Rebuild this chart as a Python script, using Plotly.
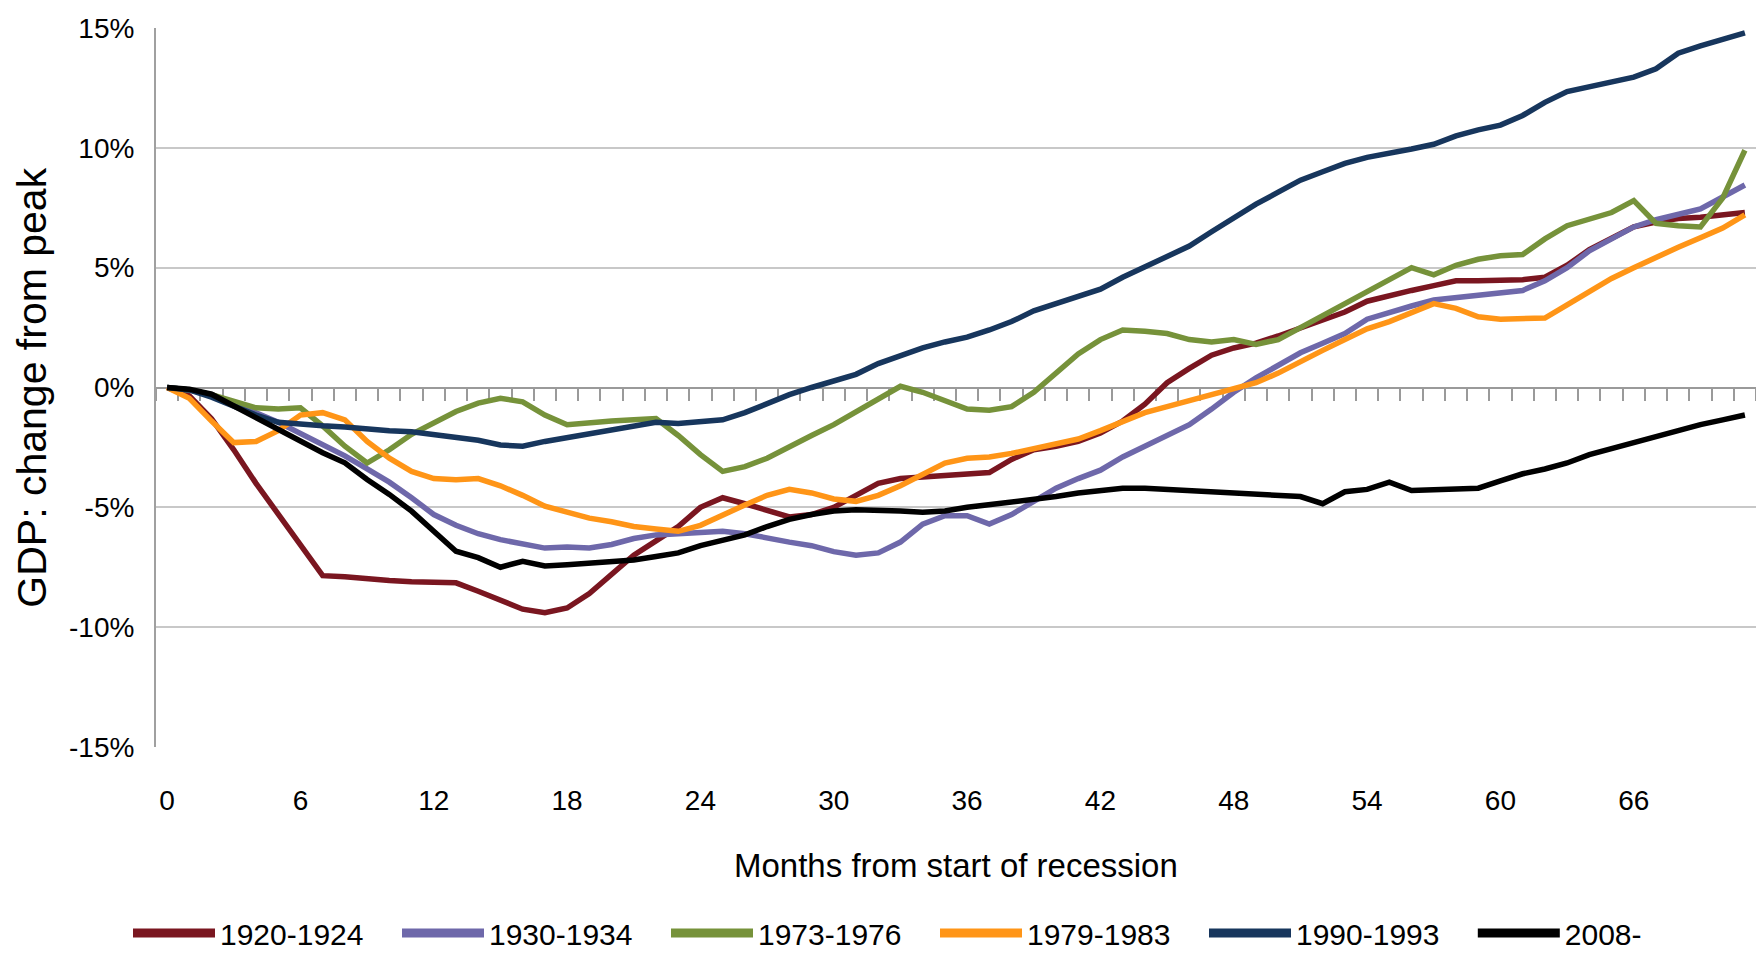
import plotly.graph_objects as go

months = list(range(72))

series_names = ["1920-1924", "1930-1934", "1973-1976", "1979-1983", "1990-1993", "2008-"]
series_colors = ["#7A1620", "#6E68AA", "#76923A", "#FF9517", "#17365D", "#000000"]

gdp_1920 = [0, -0.35, -1.3, -2.6, -4.0, -5.3, -6.6, -7.85, -7.9, -8.0, -8.05, -8.1, -8.1, -8.15, -8.5, -8.85, -9.25, -9.4,
            -9.2, -8.6, -7.8, -7.0, -6.4, -5.8, -5.0, -4.6, -4.85, -5.15, -5.4, -5.3, -5.0, -4.5, -4.0, -3.8, -3.75, -3.7,
            -3.65, -3.55, -3.0, -2.6, -2.45, -2.25, -1.9, -1.4, -0.7, 0.2, 0.8, 1.35, 1.65, 1.85, 2.15, 2.5, 2.8, 3.15,
            3.6, 3.85, 4.05, 4.25, 4.45, 4.45, 4.45, 4.5, 4.6, 5.1, 5.75, 6.25, 6.7, 6.9, 7.05, 7.1, 7.2, 7.3]
gdp_1930 = [0, -0.1, -0.3, -0.65, -1.05, -1.45, -1.9, -2.35, -2.85, -3.4, -3.95, -4.6, -5.3, -5.75, -6.1, -6.35, -6.5, -6.7,
            -6.65, -6.7, -6.55, -6.3, -6.15, -6.1, -6.05, -6.0, -6.1, -6.3, -6.45, -6.6, -6.85, -7.0, -6.9, -6.45, -5.7, -5.35,
            -5.35, -5.7, -5.3, -4.75, -4.2, -3.8, -3.45, -2.9, -2.45, -2.0, -1.55, -0.9, -0.2, 0.4, 0.95, 1.45, 1.85, 2.25,
            2.85, 3.15, 3.4, 3.65, 3.75, 3.85, 3.95, 4.05, 4.45, 5.0, 5.7, 6.2, 6.7, 7.0, 7.2, 7.45, 7.95, 8.45]
gdp_1973 = [0, -0.1, -0.3, -0.6, -0.85, -0.9, -0.85, -1.6, -2.45, -3.15, -2.6, -1.95, -1.45, -1.0, -0.65, -0.45, -0.6, -1.15,
            -1.55, -1.45, -1.4, -1.35, -1.3, -2.0, -2.8, -3.5, -3.3, -2.95, -2.45, -2.0, -1.55, -1.0, -0.45, 0.05, -0.2, -0.55,
            -0.9, -0.95, -0.8, -0.2, 0.6, 1.4, 2.0, 2.4, 2.35, 2.25, 2.0, 1.9, 2.0, 1.8, 2.0, 2.5, 3.0, 3.5,
            4.0, 4.5, 5.0, 4.7, 5.1, 5.35, 5.5, 5.55, 6.2, 6.75, 7.0, 7.3, 7.8, 6.85, 6.75, 6.7, 7.9, 9.9]
gdp_1979 = [0, -0.45, -1.4, -2.3, -2.25, -1.8, -1.15, -1.05, -1.35, -2.25, -2.95, -3.5, -3.8, -3.85, -3.8, -4.1, -4.5, -4.95,
            -5.2, -5.45, -5.6, -5.8, -5.9, -6.0, -5.75, -5.3, -4.9, -4.5, -4.25, -4.4, -4.65, -4.75, -4.5, -4.1, -3.6, -3.15,
            -2.95, -2.9, -2.75, -2.55, -2.4, -2.15, -1.8, -1.4, -1.05, -0.8, -0.55, -0.35, -0.1, 0.2, 0.6, 1.1, 1.55, 2.0,
            2.45, 2.75, 3.15, 3.5, 3.3, 2.95, 2.85, 2.85, 2.9, 3.45, 4.0, 4.55, 5.0, 5.45, 5.85, 6.25, 6.65, 7.2]
gdp_1990 = [0, -0.1, -0.4, -0.8, -1.15, -1.45, -1.55, -1.6, -1.65, -1.75, -1.8, -1.85, -1.95, -2.05, -2.2, -2.4, -2.45, -2.25,
            -2.1, -1.9, -1.75, -1.6, -1.45, -1.5, -1.45, -1.35, -1.05, -0.65, -0.3, 0.0, 0.3, 0.55, 1.0, 1.35, 1.65, 1.9,
            2.1, 2.4, 2.75, 3.2, 3.5, 3.8, 4.1, 4.6, 5.05, 5.45, 5.9, 6.5, 7.1, 7.65, 8.15, 8.65, 9.0, 9.35,
            9.6, 9.75, 9.95, 10.15, 10.5, 10.75, 10.95, 11.35, 11.9, 12.35, 12.55, 12.75, 12.95, 13.3, 13.95, 14.25, 14.55, 14.8]
gdp_2008 = [0, -0.07, -0.28, -0.77, -1.26, -1.74, -2.23, -2.72, -3.14, -3.84, -4.46, -5.16, -6.0, -6.83, -7.1, -7.5, -7.25, -7.45,
            -7.4, -7.35, -7.3, -7.2, -7.05, -6.9, -6.6, -6.4, -6.15, -5.8, -5.5, -5.3, -5.15, -5.1, -5.1, -5.15, -5.2, -5.15,
            -5.0, -4.9, -4.8, -4.65, -4.55, -4.4, -4.3, -4.2, -4.2, -4.25, -4.3, -4.3, -4.35, -4.45, -4.5, -4.55, -4.85, -4.35,
            -4.25, -3.95, -4.3, -4.25, -4.25, -4.2, -3.9, -3.6, -3.4, -3.15, -2.8, -2.55, -2.3, -2.0, -1.8, -1.55, -1.35, -1.15]

series_values = [gdp_1920, gdp_1930, gdp_1973, gdp_1979, gdp_1990, gdp_2008]

x_tick_vals = list(range(0, 67, 6))
y_tick_vals = [-15, -10, -5, 0, 5, 10, 15]
y_tick_text = ["-15%", "-10%", "-5%", "0%", "5%", "10%", "15%"]
minor_tick_vals = [m - 0.5 for m in range(73)]

FONT = "Liberation Sans, Arial, sans-serif"

fig = go.Figure()

# category axis at 0% with monthly ticks (drawn under the series)
fig.add_trace(go.Scatter(x=[None], y=[None], xaxis="x2", yaxis="y",
                         showlegend=False, hoverinfo="skip"))

for name, color, vals in zip(series_names, series_colors, series_values):
    fig.add_trace(go.Scatter(x=months, y=vals, mode="lines", name=name,
                             line=dict(color=color, width=5.5), showlegend=False))

# legend entries (thicker sample lines); last entry in a second legend box so the row fits
for i, (name, color) in enumerate(zip(series_names, series_colors)):
    fig.add_trace(go.Scatter(x=[None], y=[None], mode="lines", name=name,
                             line=dict(color=color, width=9), showlegend=True,
                             legend="legend2" if i == len(series_names) - 1 else "legend"))

legend_common = dict(orientation="h", xanchor="left", y=-0.259, yanchor="middle",
                     font=dict(family=FONT, size=30, color="#000"),
                     entrywidth=172, entrywidthmode="pixels", itemwidth=82,
                     bgcolor="rgba(0,0,0,0)")

fig.update_layout(
    width=1756, height=959,
    margin=dict(l=156, r=0, t=28, b=210),
    paper_bgcolor="white", plot_bgcolor="white",
    font=dict(family=FONT, color="#000000"),
    xaxis=dict(range=[-0.5, 71.5], tickvals=x_tick_vals, ticks="outside", ticklen=28,
               tickcolor="rgba(0,0,0,0)", showgrid=False, zeroline=False, showline=False,
               tickfont=dict(family=FONT, size=28, color="#000")),
    xaxis2=dict(range=[-0.5, 71.5], overlaying="x", anchor="free", position=0.5, side="bottom",
                tickvals=minor_tick_vals, ticks="outside", ticklen=12, tickwidth=1.5,
                tickcolor="#9A9A9A", showticklabels=False, showline=True, linecolor="#9A9A9A",
                linewidth=2, showgrid=False, zeroline=False, layer="below traces"),
    yaxis=dict(range=[-15, 15], tickvals=y_tick_vals, ticktext=y_tick_text, ticks="outside",
               ticklen=14, tickcolor="rgba(0,0,0,0)", showgrid=True, gridcolor="#C8C8C8",
               gridwidth=2, zeroline=False, showline=True, linecolor="#A0A0A0", linewidth=2,
               tickfont=dict(family=FONT, size=28, color="#000")),
    legend=dict(x=-0.0175, **legend_common),
    legend2=dict(x=0.823, **legend_common),
    annotations=[
        dict(text="Months from start of recession", x=0.5, xref="paper", y=-0.165, yref="paper",
             xanchor="center", yanchor="middle", showarrow=False,
             font=dict(family=FONT, size=33, color="#000")),
        dict(text="GDP: change from peak", x=-0.078, xref="paper", y=0.5, yref="paper",
             xanchor="center", yanchor="middle", textangle=-90, showarrow=False,
             font=dict(family=FONT, size=41, color="#000")),
    ],
)

fig.write_html("out.html", config={"displayModeBar": False},
               post_script="document.body.style.margin='0';")
